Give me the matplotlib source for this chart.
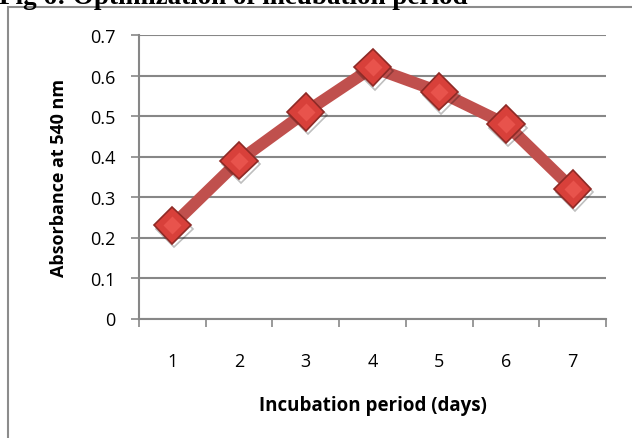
import matplotlib.pyplot as plt
import matplotlib.patheffects as pe
from matplotlib.patches import Rectangle

# incubation period (days) vs absorbance at 540 nm
days = [1, 2, 3, 4, 5, 6, 7]
absorbance = [0.23, 0.39, 0.51, 0.62, 0.56, 0.48, 0.32]
y_ticks = [0, 0.1, 0.2, 0.3, 0.4, 0.5, 0.6, 0.7]
y_tick_labels = ["0", "0.1", "0.2", "0.3", "0.4", "0.5", "0.6", "0.7"]

plt.rcParams['font.family'] = ['Open Sans', 'DejaVu Sans']

fig = plt.figure(figsize=(6.32, 4.39), dpi=100)
ax = fig.add_axes([139 / 632, 1 - 319.5 / 439, 467 / 632, 283.5 / 439])

grid_col = '#878787'

# outer chart frame (only top and left edges fall inside the image)
frame = Rectangle((8 / 632, -0.1), 1.2, 1 - 8 / 439 + 0.1, transform=fig.transFigure,
                  fill=False, edgecolor='#8c8c8c', linewidth=1.5, clip_on=False)
fig.patches.append(frame)

# caption above the chart, mostly cut off by the top edge
fig.text(-0.002, 1 - 3.5 / 439, "Fig 6: Optimization of incubation period",
         family='Liberation Serif', weight='bold', fontsize=19.5, va='baseline', ha='left')

# line plus bevelled diamond markers
ax.plot(days, absorbance, color='#C0504D', linewidth=8.5, solid_capstyle='butt', zorder=3)
ax.plot(days, absorbance, linestyle='none', marker='D', markersize=19,
        markerfacecolor='#D8403A', markeredgecolor='#8E2A26', markeredgewidth=1.2, zorder=4,
        path_effects=[pe.SimpleLineShadow(offset=(1.5, -2.5), shadow_color='k', alpha=0.25),
                      pe.Normal()])
ax.plot(days, absorbance, linestyle='none', marker='D', markersize=9,
        markerfacecolor='#E8534C', markeredgecolor='none', zorder=5)

ax.set_xlim(0.5, 7.5)
ax.set_ylim(0, 0.7)
ax.set_yticks(y_ticks)
ax.set_yticklabels(y_tick_labels)
ax.yaxis.grid(True, color=grid_col, linewidth=1.5)
ax.set_axisbelow(True)

# category ticks sit between the day labels
ax.set_xticks([d - 0.5 for d in days] + [7.5])
ax.set_xticklabels([])
ax.set_xticks(days, minor=True)
ax.set_xticklabels([str(d) for d in days], minor=True)
ax.tick_params(axis='x', which='major', direction='out', length=6, width=1.2, color=grid_col)
ax.tick_params(axis='x', which='minor', length=0, pad=24, labelsize=13)
ax.tick_params(axis='y', direction='out', length=6, width=1.2, color=grid_col, pad=11, labelsize=13)

for side in ['top', 'right']:
    ax.spines[side].set_visible(False)
for side in ['left', 'bottom']:
    ax.spines[side].set_color(grid_col)
    ax.spines[side].set_linewidth(1.5)

ax.set_ylabel("Absorbance at 540 nm", fontsize=13, fontweight='bold', labelpad=16)
ax.set_xlabel("Incubation period (days)", fontsize=13.5, fontweight='bold', labelpad=18)

fig.savefig('out.png', dpi=100)
